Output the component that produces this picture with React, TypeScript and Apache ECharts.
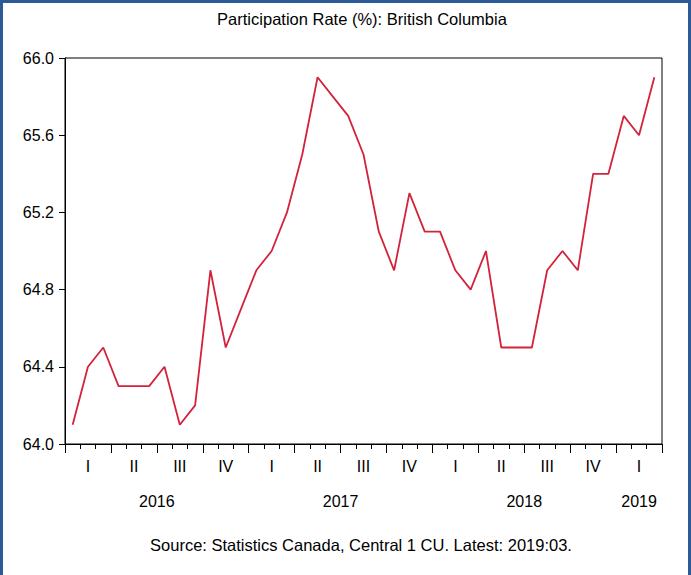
import React, { useEffect, useRef } from 'react';
import * as echarts from 'echarts';

const chartTitle = 'Participation Rate (%): British Columbia';
const sourceNote = 'Source: Statistics Canada, Central 1 CU. Latest: 2019:03.';
const years = ['2016', '2017', '2018', '2019'];
const monthsPerYear = [12, 12, 12, 3];
const quarterNames = ['I', 'II', 'III', 'IV'];
const participation = [
  64.1, 64.4, 64.5, 64.3, 64.3, 64.3, 64.4, 64.1, 64.2, 64.9, 64.5, 64.7,
  64.9, 65.0, 65.2, 65.5, 65.9, 65.8, 65.7, 65.5, 65.1, 64.9, 65.3, 65.1,
  65.1, 64.9, 64.8, 65.0, 64.5, 64.5, 64.5, 64.9, 65.0, 64.9, 65.4, 65.4,
  65.7, 65.6, 65.9,
];
const yMin = 64.0;
const yMax = 66.0;
const yStep = 0.4;

const FONT = 'Liberation Sans, Arial, sans-serif';

export default function App() {
  const ref = useRef<HTMLDivElement>(null);

  useEffect(() => {
    if (!ref.current) return;
    const chart = echarts.init(ref.current, undefined, { renderer: 'svg' });

    const months: string[] = [];
    years.forEach((y, i) => {
      for (let m = 1; m <= monthsPerYear[i]; m++) {
        months.push(`${y}:${String(m).padStart(2, '0')}`);
      }
    });
    const n = months.length;
    const nQuarters = Math.ceil(n / 3);
    const quarterTicks: number[] = [];
    const quarterLabels: number[] = [];
    for (let q = 0; q <= nQuarters; q++) quarterTicks.push(q * 3);
    for (let q = 0; q < nQuarters; q++) quarterLabels.push(q * 3 + 1.5);
    const yearCenters: number[] = [];
    let start = 0;
    monthsPerYear.forEach((c) => {
      yearCenters.push(start + c / 2);
      start += c;
    });

    const axisText = { fontFamily: FONT, fontSize: 16, color: '#000' };

    chart.setOption({
      animation: false,
      backgroundColor: '#fff',
      grid: {
        left: 65,
        top: 58,
        right: 29,
        bottom: 131,
        show: true,
        borderColor: '#000',
        borderWidth: 1,
        backgroundColor: 'transparent',
      },
      xAxis: [
        {
          type: 'category',
          data: months,
          boundaryGap: true,
          axisLine: { show: true, lineStyle: { color: '#000', width: 1 } },
          axisTick: { show: true, interval: 0, length: 5, lineStyle: { color: '#000' } },
          axisLabel: { show: false },
          splitLine: { show: false },
        },
        {
          type: 'value',
          min: 0,
          max: n,
          position: 'bottom',
          axisLine: { show: false },
          axisTick: {
            show: true,
            length: 9,
            customValues: quarterTicks,
            lineStyle: { color: '#000' },
          },
          axisLabel: {
            ...axisText,
            margin: 14,
            customValues: quarterLabels,
            formatter: (v: number) => quarterNames[Math.floor(v / 3) % 4],
          },
          splitLine: { show: false },
        },
        {
          type: 'value',
          min: 0,
          max: n,
          position: 'bottom',
          axisLine: { show: false },
          axisTick: { show: false },
          axisLabel: {
            ...axisText,
            margin: 49,
            customValues: yearCenters,
            formatter: (v: number) => {
              const i = yearCenters.findIndex((c) => Math.abs(c - v) < 1e-6);
              return i >= 0 ? years[i] : '';
            },
          },
          splitLine: { show: false },
        },
      ],
      yAxis: {
        type: 'value',
        min: yMin,
        max: yMax,
        interval: yStep,
        axisLine: { show: true, lineStyle: { color: '#000', width: 1 } },
        axisTick: { show: true, length: 6, lineStyle: { color: '#000' } },
        axisLabel: {
          ...axisText,
          margin: 11,
          formatter: (v: number) => v.toFixed(1),
        },
        splitLine: { show: false },
      },
      series: [
        {
          type: 'line',
          xAxisIndex: 0,
          data: participation,
          symbol: 'none',
          lineStyle: { color: '#d3233b', width: 1.8 },
          itemStyle: { color: '#d3233b' },
        },
      ],
      graphic: [
        {
          type: 'text',
          x: 362,
          y: 19,
          style: {
            text: chartTitle,
            font: `16.5px ${FONT}`,
            fill: '#000',
            align: 'center',
            verticalAlign: 'middle',
            textAlign: 'center',
            textVerticalAlign: 'middle',
          },
        },
        {
          type: 'text',
          x: 361,
          y: 545,
          style: {
            text: sourceNote,
            font: `16.5px ${FONT}`,
            fill: '#000',
            align: 'center',
            verticalAlign: 'middle',
            textAlign: 'center',
            textVerticalAlign: 'middle',
          },
        },
        { type: 'rect', shape: { x: 0, y: 0, width: 3, height: 575 }, style: { fill: '#2c5a96' } },
        { type: 'rect', shape: { x: 0, y: 0, width: 691, height: 3 }, style: { fill: '#2c5a96' } },
        { type: 'rect', shape: { x: 688, y: 0, width: 3, height: 575 }, style: { fill: '#2c5a96' } },
      ],
    });

    return () => chart.dispose();
  }, []);

  return (
    <div
      ref={ref}
      style={{ position: 'fixed', left: 0, top: 0, width: 691, height: 575 }}
    />
  );
}
